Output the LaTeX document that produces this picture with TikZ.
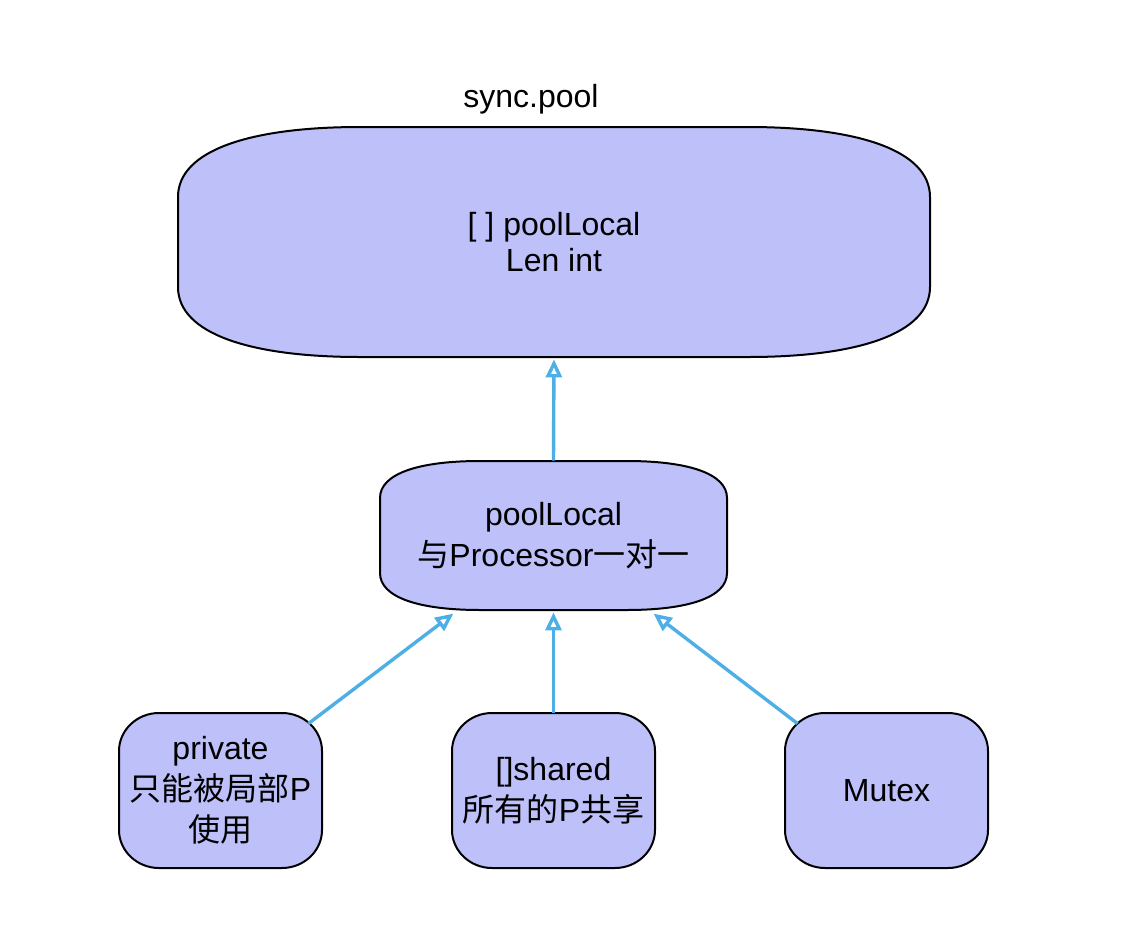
\documentclass[tikz,border=0pt]{standalone}
\usepackage{fontspec}
\setmainfont{Liberation Sans}
\newfontfamily\cjk{Noto Sans CJK SC}
\usetikzlibrary{arrows.meta,calc}
\definecolor{boxfill}{RGB}{190,192,250}
\definecolor{conncol}{RGB}{77,175,230}
\tikzset{
  boxshape/.style={draw=black, line width=1pt, fill=boxfill},
  boxtext/.style={inner sep=0pt, align=center, font=\fontsize{16}{20.5}\selectfont},
  conn/.style={draw=conncol, line width=1.7pt, -{Triangle[open, length=9pt, width=8pt]}, shorten >=1pt},
}
\newcommand\blobpath[8]{%
  \path[boxshape] (#1,{#2+#6}) .. controls (#1,{#2+#8*#6}) and ({#1+#7*#5},#2) .. ({#1+#5},#2)
    -- ({#3-#5},#2) .. controls ({#3-#7*#5},#2) and (#3,{#2+#8*#6}) .. (#3,{#2+#6})
    -- (#3,{#4-#6}) .. controls (#3,{#4-#8*#6}) and ({#3-#7*#5},#4) .. ({#3-#5},#4)
    -- ({#1+#5},#4) .. controls ({#1+#7*#5},#4) and (#1,{#4-#8*#6}) .. (#1,{#4-#6}) -- cycle;}
\begin{document}
\begin{tikzpicture}[x=0.5pt, y=-0.5pt]
\useasboundingbox (0,0) rectangle (1132,944);
% shapes
\blobpath{178}{127}{930}{357}{182}{70}{0.4}{0.33}
\blobpath{380}{461}{727}{610}{100}{37}{0.4}{0.33}
\blobpath{119}{713}{322}{868}{40}{38}{0.45}{0.45}
\blobpath{452}{713}{655}{868}{40}{38}{0.45}{0.45}
\blobpath{785}{713}{988}{868}{40}{38}{0.45}{0.45}
% labels
\node[inner sep=0pt, anchor=base, font=\fontsize{16}{19}\selectfont] (title) at (531,107) {sync.pool};
\node[boxtext, font=\fontsize{16}{18}\selectfont, minimum width=376pt, minimum height=115pt] (top) at (554,242) {[ ] poolLocal\\Len int};
\node[boxtext, minimum width=173.5pt, minimum height=74.5pt] (mid) at (553.5,535.5) {poolLocal\\{\cjk 与}Processor{\cjk 一对一}};
\node[boxtext, minimum width=101.5pt, minimum height=77.5pt] (bl) at (220.5,790.5) {private\\{\cjk 只能被局部}P\\{\cjk 使用}};
\node[boxtext, minimum width=101.5pt, minimum height=77.5pt] (bm) at (553.5,790.5) {[]shared\\{\cjk 所有的}P{\cjk 共享}};
\node[boxtext, minimum width=101.5pt, minimum height=77.5pt] (br) at (886.5,790.5) {Mutex};
% connectors
\draw[conn] (mid.north) -- (top.south);
\draw[conn] (bm.north) -- (mid.south);
\draw[conn] ($(bl.north east)+(-14,11)$) -- ($(mid.south)+(-98.5,2)$);
\draw[conn] ($(br.north west)+(13,11)$) -- ($(mid.south)+(98.5,2)$);
\end{tikzpicture}
\end{document}
